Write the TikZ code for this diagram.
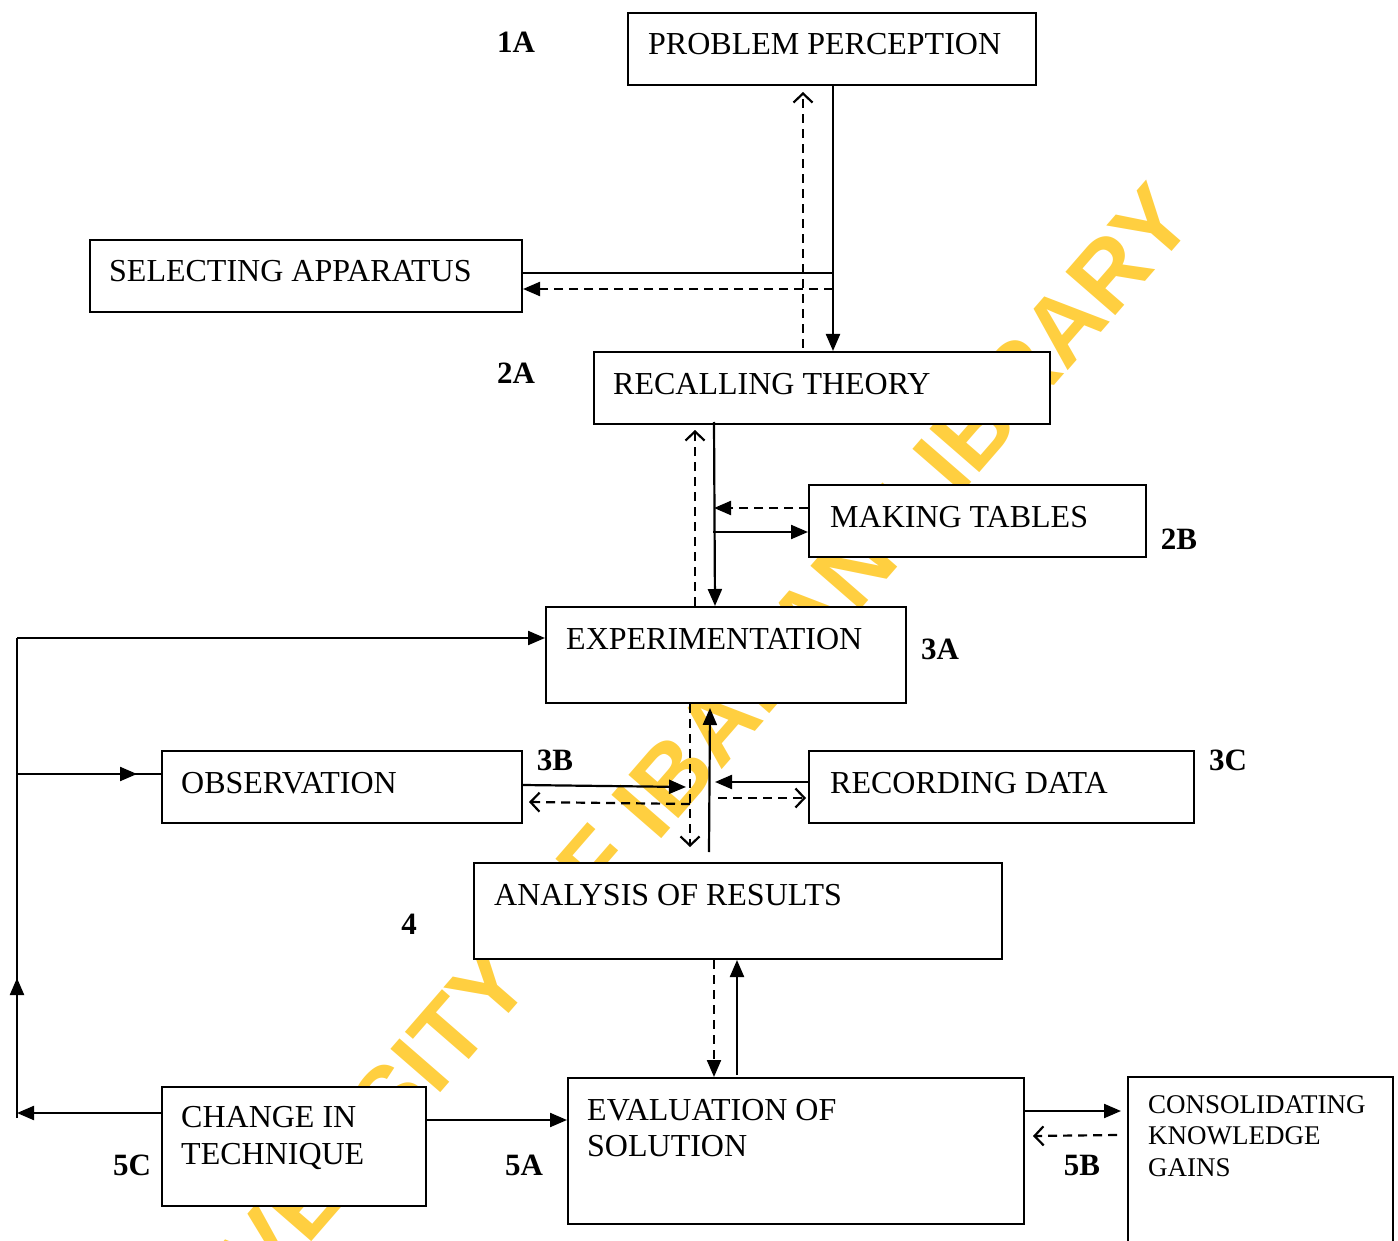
\documentclass[tikz,border=0pt]{standalone}
\usepackage{fontspec}
\setmainfont{Liberation Serif}
\newfontfamily\wmfont{Liberation Sans}
\usetikzlibrary{arrows.meta,calc}
\definecolor{wmyellow}{RGB}{255,207,64}
\begin{document}
\begin{tikzpicture}[x=1pt,y=-1pt,
  box/.style={draw, line width=2pt, fill=white, rectangle, inner sep=0pt, anchor=north west},
  btext/.style={anchor=base west, inner sep=0pt, font=\fontsize{32}{36}\selectfont, align=left},
  smalltext/.style={anchor=base west, inner sep=0pt, font=\fontsize{27}{31.5}\selectfont, align=left},
  num/.style={font=\bfseries\fontsize{31}{36}\selectfont, inner sep=0pt},
  wm/.style={font=\wmfont\bfseries\fontsize{96}{110}\selectfont, text=wmyellow, inner sep=0pt},
  ln/.style={line width=2.2pt},
  thinln/.style={line width=1.3pt},
  sarr/.style={ln, -{Triangle[length=17pt,width=14pt]}},
  dsh/.style={ln, dash pattern=on 9pt off 6pt},
  darr/.style={dsh, -{Triangle[length=17pt,width=14pt]}},
  oarr/.style={dsh, -{Straight Barb[length=9pt,width=19pt,line width=2.2pt]}}
]
\useasboundingbox (0,0) rectangle (1398,1241);
\clip (0,0) rectangle (1398,1241);

% watermark
\node[wm, rotate=49] (wm) at (652,799) {UNIVERSITY OF IBADAN LIBRARY};

% boxes
\node[box, minimum width=408pt, minimum height=72pt] (pp) at (627,12) {};
\node[box, minimum width=432pt, minimum height=72pt] (sa) at (89,239) {};
\node[box, minimum width=456pt, minimum height=72pt] (rt) at (593,351) {};
\node[box, minimum width=337pt, minimum height=72pt] (mt) at (808,484) {};
\node[box, minimum width=360pt, minimum height=96pt] (exp) at (545,606) {};
\node[box, minimum width=360pt, minimum height=72pt] (obs) at (161,750) {};
\node[box, minimum width=385pt, minimum height=72pt] (rd) at (808,750) {};
\node[box, minimum width=528pt, minimum height=96pt] (an) at (473,862) {};
\node[box, minimum width=456pt, minimum height=146pt] (ev) at (567,1077) {};
\node[box, minimum width=264pt, minimum height=119pt] (cit) at (161,1086) {};
\node[box, minimum width=265pt, minimum height=220pt] (ckg) at (1127,1076) {};

% box texts
\node[btext] (ppt) at ($(pp.north west)+(21,43)$) {PROBLEM PERCEPTION};
\node[btext] (sat) at ($(sa.north west)+(20,43)$) {SELECTING APPARATUS};
\node[btext] (rtt) at ($(rt.north west)+(20,43)$) {RECALLING THEORY};
\node[btext] (mtt) at ($(mt.north west)+(22,43)$) {MAKING TABLES};
\node[btext] (expt) at ($(exp.north west)+(21,43)$) {EXPERIMENTATION};
\node[btext] (obst) at ($(obs.north west)+(20,43)$) {OBSERVATION};
\node[btext] (rdt) at ($(rd.north west)+(22,43)$) {RECORDING DATA};
\node[btext] (ant) at ($(an.north west)+(21,43)$) {ANALYSIS OF RESULTS};
\node[btext] (evt) at ($(ev.north west)+(20,79)$) {EVALUATION OF\\SOLUTION};
\node[btext, font=\fontsize{32}{37}\selectfont] (citt) at ($(cit.north west)+(20,78)$) {CHANGE IN\\TECHNIQUE};
\node[smalltext] (ckgt) at ($(ckg.north west)+(21,100)$) {CONSOLIDATING\\KNOWLEDGE\\GAINS};

% number labels
\node[num] (l1a) at (516,42) {1A};
\node[num] (l2a) at (516,373) {2A};
\node[num] (l2b) at (1179,539) {2B};
\node[num] (l3a) at (940,649) {3A};
\node[num] (l3b) at (555,760) {3B};
\node[num] (l3c) at (1228,760) {3C};
\node[num] (l4) at (409,924) {4};
\node[num] (l5c) at (132,1165) {5C};
\node[num] (l5a) at (524,1165) {5A};
\node[num] (l5b) at (1082,1165) {5B};

% problem perception <-> recalling theory, selecting apparatus
\coordinate (j1) at ($(pp.south west)+(206,187)$);
\coordinate (j2) at ($(pp.south west)+(206,203)$);
\draw[sarr] ($(pp.south west)+(206,0)$) -- ($(rt.north west)+(240,0)$);
\draw[ln] (j1) -- (sa.east |- j1);
\draw[darr] (j2) -- (sa.east |- j2);
\draw[oarr] ($(rt.north west)+(210,-3)$) -- ($(pp.south west)+(176,6)$);

% recalling theory <-> experimentation, making tables
\draw[sarr] ($(rt.south west)+(121,-3)$) -- ($(exp.north west)+(170,0)$);
\draw[oarr] ($(exp.north west)+(150,0)$) -- ($(rt.south west)+(102,5)$);
\draw[darr] ($(mt.north west)+(0,24)$) -- ($(mt.north west)+(-94,24)$);
\draw[sarr] ($(mt.north west)+(-95,48)$) -- ($(mt.north west)+(0,48)$);

% feedback loop on the left
\coordinate (lt) at (17,638);
\coordinate (lo) at (17,774);
\coordinate (lm) at (17,978);
\coordinate (lc) at (17,1113);
\coordinate (lb) at (17,1118);
\draw[ln] (lt) -- (lb);
\draw[sarr] (lt) -- (exp.west |- lt);
\draw[sarr] (lc |- lb) -- (lm);
\draw[sarr] (cit.west |- lc) -- (lc);
\draw[thinln] (lo) -- (obs.west |- lo);
\draw[sarr] (lo) -- ($(lo)+(120,0)$);

% observation / recording data around the central axis
\draw[sarr] ($(obs.north east)+(0,35)$) -- ($(exp.south west)+(141,83)$);
\draw[oarr] ($(exp.south west)+(145,100)$) -- ($(obs.north east)+(6,52)$);
\draw[oarr] ($(exp.south west)+(145,0)$) -- ($(exp.south west)+(145,143)$);
\draw[sarr] ($(an.north west)+(236,-10)$) -- ($(exp.south west)+(165,4)$);
\draw[sarr] ($(rd.north west)+(0,32)$) -- ($(rd.north west)+(-93,32)$);
\draw[oarr] ($(rd.north west)+(-90,48)$) -- ($(rd.north west)+(-2,48)$);

% analysis <-> evaluation
\draw[darr] ($(an.south west)+(241,0)$) -- ($(ev.north west)+(147,0)$);
\draw[sarr] ($(ev.north west)+(170,-2)$) -- ($(an.south west)+(264,0)$);

% change in technique -> evaluation -> consolidating
\draw[sarr] ($(cit.north east)+(0,34)$) -- ($(ev.north west)+(0,43)$);
\draw[sarr] ($(ev.north east)+(0,34)$) -- ($(ckg.north west)+(-6,35)$);
\draw[oarr] ($(ckg.north west)+(-10,59)$) -- ($(ev.north east)+(8,59)$);
\end{tikzpicture}
\end{document}
